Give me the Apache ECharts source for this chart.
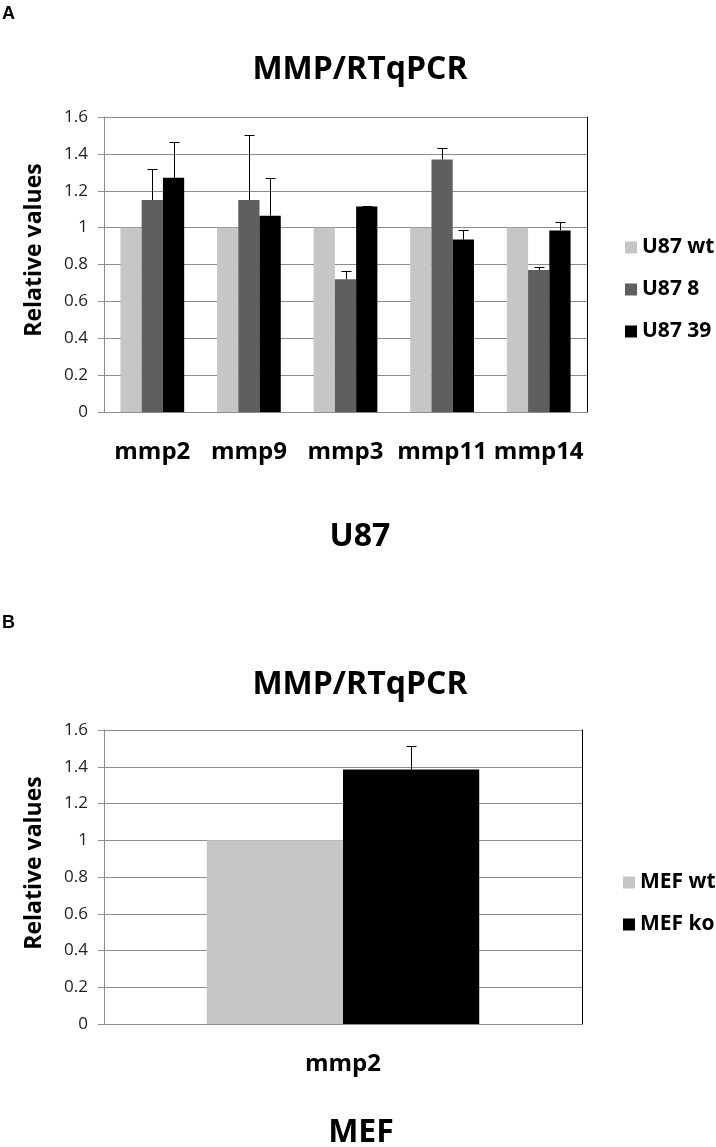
<!DOCTYPE html>
<html>
<head>
<meta charset="utf-8">
<script src="https://cdn.jsdelivr.net/npm/echarts@6/dist/echarts.min.js"></script>
<style>
html,body{margin:0;padding:0;background:#fff;}
#chart{width:716px;height:1147px;}
</style>
</head>
<body>
<div id="chart"></div>
<script>
// ---- Data ----
const categoriesA = ['mmp2', 'mmp9', 'mmp3', 'mmp11', 'mmp14'];
const seriesNamesA = ['U87 wt', 'U87 8', 'U87 39'];
const u87wt = [1, 1, 1, 1, 1];
const u87_8 = [1.15, 1.15, 0.72, 1.37, 0.77];
const u87_8Err = [0.17, 0.355, 0.045, 0.063, 0.017];
const u87_39 = [1.27, 1.065, 1.115, 0.935, 0.985];
const u87_39Err = [0.195, 0.205, 0.004, 0.053, 0.047];

const categoriesB = ['mmp2'];
const seriesNamesB = ['MEF wt', 'MEF ko'];
const mefWt = [1];
const mefKo = [1.385];
const mefKoErr = [0.128];

const yTicks = { min: 0, max: 1.6, interval: 0.2 };

// ---- Styles ----
const FONT = '"Open Sans", "Noto Sans", sans-serif';
const colWt = '#c6c6c6', col8 = '#5f5f5f', colBlack = '#000000';
const gridColor = '#8c8c8c';

function errRenderer(nSeries, idx, gapFrac) {
  return function (params, api) {
    const x = api.value(0), y = api.value(1), e = api.value(2);
    const base = api.coord([x, y]);
    const top = api.coord([x, y + e]);
    const catW = api.size([1, 0])[0];
    const barW = catW * (1 - gapFrac) / nSeries;
    const cx = Math.round(base[0] + (idx - (nSeries - 1) / 2) * barW) + 0.5;
    const ty = Math.round(top[1]) + 0.5;
    const st = { stroke: '#000', lineWidth: 1 };
    return {
      type: 'group',
      children: [
        { type: 'line', shape: { x1: cx, y1: base[1], x2: cx, y2: ty }, style: st },
        { type: 'line', shape: { x1: cx - 5, y1: ty, x2: cx + 5, y2: ty }, style: st }
      ]
    };
  };
}
function errData(vals, errs) { return vals.map((v, i) => [i, v, errs[i]]); }

const gapA = 0.34, gapB = 0.43;

function yAxisCfg(gridIndex) {
  return {
    type: 'value', gridIndex: gridIndex, min: yTicks.min, max: yTicks.max, interval: yTicks.interval,
    axisLine: { show: true, lineStyle: { color: gridColor, width: 1 } },
    axisTick: { show: true, inside: false, length: 6, lineStyle: { color: gridColor } },
    axisLabel: { fontFamily: FONT, fontSize: 17, color: '#222', margin: 16 },
    splitLine: { show: true, lineStyle: { color: gridColor, width: 1 } }
  };
}
function rightBorder(gridIndex) {
  return {
    type: 'value', gridIndex: gridIndex, position: 'right', min: yTicks.min, max: yTicks.max, interval: yTicks.interval,
    axisLine: { show: true, lineStyle: { color: '#000', width: 1 } },
    axisTick: { show: false }, axisLabel: { show: false }, splitLine: { show: false }
  };
}
function xAxisCfg(gridIndex, cats) {
  return {
    type: 'category', gridIndex: gridIndex, data: cats,
    axisLine: { show: true, lineStyle: { color: gridColor } },
    axisTick: { show: false },
    axisLabel: { interval: 0, fontFamily: FONT, fontSize: 24, fontWeight: 'bold', color: '#000', margin: 28 }
  };
}
function txt(text, x, y, size, rot) {
  return {
    type: 'text', x: x, y: y, rotation: rot || 0,
    style: { text: text, font: 'bold ' + size + 'px ' + FONT, fill: '#000', align: 'center', verticalAlign: 'middle' }
  };
}

const option = {
  backgroundColor: '#fff',
  animation: false,
  grid: [
    { left: 104, top: 117, width: 483, height: 295 },
    { left: 104, top: 730, width: 478, height: 294 }
  ],
  xAxis: [xAxisCfg(0, categoriesA), xAxisCfg(1, categoriesB)],
  yAxis: [yAxisCfg(0), rightBorder(0), yAxisCfg(1), rightBorder(1)],
  legend: [
    {
      data: seriesNamesA, orient: 'vertical', left: 620, top: 232, itemWidth: 12, itemHeight: 12, itemGap: 21,
      icon: 'rect', textStyle: { fontFamily: FONT, fontSize: 21, fontWeight: 'bold', color: '#000', lineHeight: 21 }
    },
    {
      data: seriesNamesB, orient: 'vertical', left: 618, top: 867, itemWidth: 12, itemHeight: 12, itemGap: 21,
      icon: 'rect', textStyle: { fontFamily: FONT, fontSize: 21, fontWeight: 'bold', color: '#000', lineHeight: 21 }
    }
  ],
  series: [
    { name: seriesNamesA[0], type: 'bar', xAxisIndex: 0, yAxisIndex: 0, data: u87wt, itemStyle: { color: colWt }, barGap: '0%', barCategoryGap: (gapA * 100) + '%' },
    { name: seriesNamesA[1], type: 'bar', xAxisIndex: 0, yAxisIndex: 0, data: u87_8, itemStyle: { color: col8 }, barGap: '0%', barCategoryGap: (gapA * 100) + '%' },
    { name: seriesNamesA[2], type: 'bar', xAxisIndex: 0, yAxisIndex: 0, data: u87_39, itemStyle: { color: colBlack }, barGap: '0%', barCategoryGap: (gapA * 100) + '%' },
    { type: 'custom', xAxisIndex: 0, yAxisIndex: 0, renderItem: errRenderer(3, 1, gapA), data: errData(u87_8, u87_8Err), z: 5 },
    { type: 'custom', xAxisIndex: 0, yAxisIndex: 0, renderItem: errRenderer(3, 2, gapA), data: errData(u87_39, u87_39Err), z: 5 },
    { name: seriesNamesB[0], type: 'bar', xAxisIndex: 1, yAxisIndex: 2, data: mefWt, itemStyle: { color: colWt }, barGap: '0%', barCategoryGap: (gapB * 100) + '%' },
    { name: seriesNamesB[1], type: 'bar', xAxisIndex: 1, yAxisIndex: 2, data: mefKo, itemStyle: { color: colBlack }, barGap: '0%', barCategoryGap: (gapB * 100) + '%' },
    { type: 'custom', xAxisIndex: 1, yAxisIndex: 2, renderItem: errRenderer(2, 1, gapB), data: errData(mefKo, mefKoErr), z: 5 }
  ],
  graphic: [
    { type: 'text', x: 2, y: 5, style: { text: 'A', font: 'bold 18px "Liberation Sans", Arial, sans-serif', fill: '#000' } },
    { type: 'text', x: 2, y: 614, style: { text: 'B', font: 'bold 18px "Liberation Sans", Arial, sans-serif', fill: '#000' } },
    txt('MMP/RTqPCR', 360, 70, 32),
    txt('MMP/RTqPCR', 360, 685, 32),
    txt('Relative values', 34, 250, 23, Math.PI / 2),
    txt('Relative values', 34, 863, 23, Math.PI / 2),
    txt('U87', 360, 537, 32),
    txt('MEF', 361, 1133, 32)
  ]
};

const chart = echarts.init(document.getElementById('chart'), null, { renderer: 'canvas' });
chart.setOption(option);
</script>
</body>
</html>
